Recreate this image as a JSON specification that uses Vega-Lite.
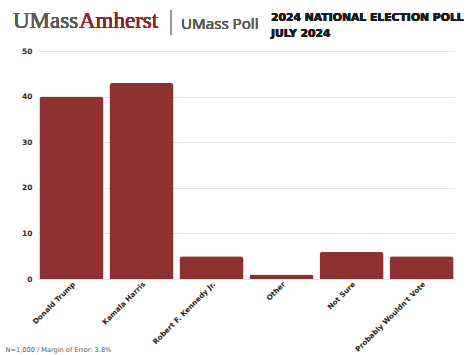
{
  "$schema": "https://vega.github.io/schema/vega-lite/v6.json",
  "autosize": "none",
  "width": 417,
  "height": 228,
  "padding": {"left": 38, "top": 51, "right": 19, "bottom": 76},
  "background": "white",
  "config": {"view": {"stroke": null}},
  "data": {
    "values": [
      {"option": "Donald Trump", "pct": 40},
      {"option": "Kamala Harris", "pct": 43},
      {"option": "Robert F. Kennedy Jr.", "pct": 5},
      {"option": "Other", "pct": 1},
      {"option": "Not Sure", "pct": 6},
      {"option": "Probably Wouldn't Vote", "pct": 5}
    ]
  },
  "layer": [
    {
      "mark": {"type": "bar", "color": "#8E3231", "cornerRadiusTopLeft": 3, "cornerRadiusTopRight": 3},
      "encoding": {
        "x": {
          "field": "option",
          "type": "nominal",
          "sort": null,
          "scale": {"paddingInner": 0.085, "paddingOuter": 0.02},
          "axis": {
            "title": "N=1,000 / Margin of Error: 3.8%",
            "titleFont": "DejaVu Sans",
            "titleFontSize": 6.6,
            "titleFontWeight": "normal",
            "titleColor": "#555555",
            "titleAnchor": "start",
            "titleAlign": "left",
            "titleBaseline": "alphabetic",
            "titleX": -33,
            "titleY": 72,
            "labelAngle": -45,
            "labelFont": "DejaVu Sans",
            "labelFontSize": 7.2,
            "labelFontWeight": "bold",
            "labelColor": "#222222",
            "labelPadding": 1,
            "domain": false,
            "ticks": false
          }
        },
        "y": {
          "field": "pct",
          "type": "quantitative",
          "scale": {"domain": [0, 50]},
          "axis": {
            "title": null,
            "values": [0, 10, 20, 30, 40, 50],
            "labelFont": "DejaVu Sans",
            "labelFontSize": 7.5,
            "labelFontWeight": "bold",
            "labelColor": "#2a2a2a",
            "labelPadding": 6,
            "domain": false,
            "ticks": false,
            "gridColor": "#e4e4e4",
            "gridWidth": 1
          }
        }
      }
    },
    {
      "mark": {"type": "text", "text": "UMass", "x": -25, "y": -23, "align": "left", "baseline": "alphabetic", "font": "Liberation Serif", "fontSize": 23, "color": "#5a5a5a"},
      "encoding": {}
    },
    {
      "mark": {"type": "text", "text": "Amherst", "x": 41, "y": -23, "align": "left", "baseline": "alphabetic", "font": "Liberation Serif", "fontSize": 23, "color": "#8E2430"},
      "encoding": {}
    },
    {
      "mark": {"type": "rule", "color": "#999999", "strokeWidth": 1},
      "encoding": {
        "x": {"value": 133},
        "x2": {"value": 133},
        "y": {"value": -41},
        "y2": {"value": -16}
      }
    },
    {
      "mark": {"type": "text", "text": "UMass Poll", "x": 143, "y": -22, "align": "left", "baseline": "alphabetic", "font": "Open Sans", "fontSize": 15.2, "color": "#5a5a5a"},
      "encoding": {}
    },
    {
      "mark": {"type": "text", "text": "2024 NATIONAL ELECTION POLL", "x": 233, "y": -30, "align": "left", "baseline": "alphabetic", "font": "DejaVu Sans", "fontSize": 10.8, "fontWeight": "bold", "color": "#1a1a1a"},
      "encoding": {}
    },
    {
      "mark": {"type": "text", "text": "JULY 2024", "x": 233, "y": -14, "align": "left", "baseline": "alphabetic", "font": "DejaVu Sans", "fontSize": 10.8, "fontWeight": "bold", "color": "#1a1a1a"},
      "encoding": {}
    }
  ]
}
